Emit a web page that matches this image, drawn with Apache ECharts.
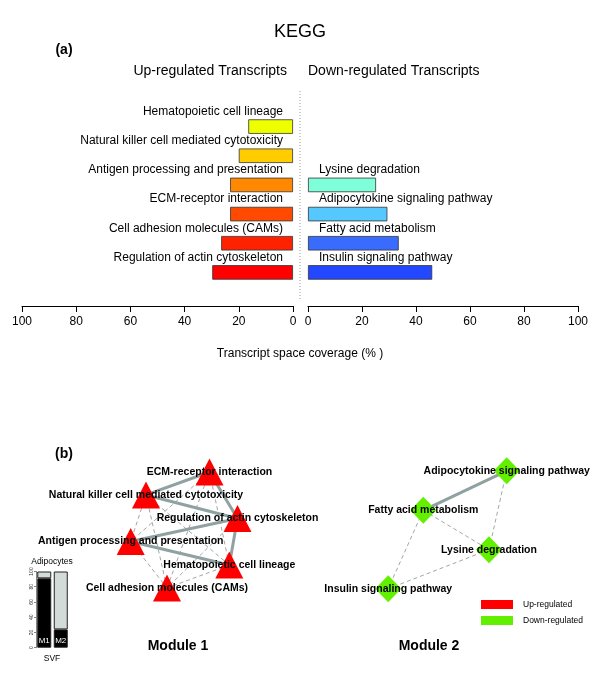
<!DOCTYPE html>
<html><head><meta charset="utf-8">
<script src="https://cdn.jsdelivr.net/npm/echarts@6/dist/echarts.min.js"></script>
<style>html,body{margin:0;padding:0;background:#fff}#c{width:600px;height:674px}</style>
</head><body><div id="c"></div>
<script>
// ---------- Panel (a): KEGG transcript space coverage ----------
const rowKeys = ['r1','r2','r3','r4','r5','r6'];
const upCategories = ['Hematopoietic cell lineage','Natural killer cell mediated cytotoxicity','Antigen processing and presentation','ECM-receptor interaction','Cell adhesion molecules (CAMs)','Regulation of actin cytoskeleton'];
const upValues = [16.5, 20, 23.2, 23.2, 26.5, 29.8];
const downCategories = ['', '', 'Lysine degradation','Adipocytokine signaling pathway','Fatty acid metabolism','Insulin signaling pathway'];
const downValues = [null, null, 25.2, 29.4, 33.6, 46];
const coverageMin = 0, coverageMax = 100, coverageStep = 20;

// ---------- Panel (b): modules network ----------
const module1Nodes = ['ECM-receptor interaction','Natural killer cell mediated cytotoxicity','Regulation of actin cytoskeleton','Antigen processing and presentation','Hematopoietic cell lineage','Cell adhesion molecules (CAMs)'];
const module1X = [54.75, 23, 68.75, 15.35, 64.65, 33.5];
const module1Y = [86.25, 71.9, 57.2, 42.8, 28.1, 13.75];
const module1Strong = [[0,1],[0,2],[1,2],[3,2],[3,4],[2,4]];
const module1Weak = [[0,3],[0,4],[0,5],[1,3],[1,4],[1,5],[2,5],[3,5],[4,5]];

const module2Nodes = ['Adipocytokine signaling pathway','Fatty acid metabolism','Lysine degradation','Insulin signaling pathway'];
const module2X = [68.9, 41.1, 63, 29.4];
const module2Y = [87, 62.3, 37.7, 13.25];
const module2Strong = [[0,1]];
const module2Weak = [[0,2],[1,2],[1,3],[2,3]];

// ---------- Inset: Adipocytes vs SVF ----------
const insetCategories = ['M1','M2'];
const insetModuleShare = [91, 24];
const insetRest = [9, 76];

// ---------- styles ----------
const FONT = '"Liberation Sans", Arial, Helvetica, sans-serif';
const upColors = ['#EEFF00','#FFCC00','#FF8800','#FF4A00','#FF2200','#FF0000'];
const downColors = ['#fff','#fff','#7FFFD9','#55C8FF','#3A6BFF','#2448FF'];
const strongLine = {width:3, color:'#8FA1A0', type:'solid', opacity:1, curveness:0};
const weakLine = {width:1, color:'#A0A8A8', type:[4,3], opacity:1, curveness:0};

function links(strong, weak){
  return weak.map(p=>({source:p[0], target:p[1], lineStyle:weakLine}))
    .concat(strong.map(p=>({source:p[0], target:p[1], lineStyle:strongLine})));
}

const axisCommon = {
  type:'value', min:coverageMin, max:coverageMax, interval:coverageStep,
  splitLine:{show:false}, offset:19,
  axisLine:{show:true, lineStyle:{color:'#000', width:1}},
  axisTick:{show:true, length:6, lineStyle:{color:'#000'}},
  axisLabel:{fontSize:12, color:'#000', margin:10, fontFamily:FONT}
};
const hiddenVal = (mn,mx)=>({type:'value', min:mn, max:mx, show:false, splitLine:{show:false}});

const chart = echarts.init(document.getElementById('c'), null, {renderer:'canvas'});
chart.setOption({
  animation:false,
  backgroundColor:'#fff',
  textStyle:{fontFamily:FONT},
  grid:[
    {left:22, top:112, width:271, height:175},
    {left:308, top:112, width:270, height:175},
    {left:100, top:450, width:200, height:160},
    {left:300, top:450, width:300, height:160},
    {left:36, top:571.5, width:33, height:76.2}
  ],
  xAxis:[
    Object.assign({gridIndex:0, inverse:true}, axisCommon),
    Object.assign({gridIndex:1}, axisCommon),
    Object.assign({gridIndex:2}, hiddenVal(0,100)),
    Object.assign({gridIndex:3}, hiddenVal(0,100)),
    {gridIndex:4, type:'category', data:insetCategories, show:false}
  ],
  yAxis:[
    {gridIndex:0, type:'category', data:rowKeys, inverse:true, show:false},
    {gridIndex:1, type:'category', data:rowKeys, inverse:true, show:false},
    Object.assign({gridIndex:2}, hiddenVal(0,100)),
    Object.assign({gridIndex:3}, hiddenVal(0,100)),
    {gridIndex:4, type:'value', min:0, max:100, interval:20, splitLine:{show:false},
     axisLine:{show:true, lineStyle:{color:'#333', width:0.6}},
     axisTick:{show:true, length:2, lineStyle:{color:'#333', width:0.6}},
     axisLabel:{fontSize:5, rotate:90, margin:2, color:'#333'}}
  ],
  legend:{
    orient:'vertical', left:481, top:600, padding:0, itemGap:7,
    itemWidth:32, itemHeight:9, selectedMode:false,
    textStyle:{fontSize:8.5, color:'#000', fontFamily:FONT, padding:[0,0,0,5]},
    data:[
      {name:'Up-regulated', icon:'rect', itemStyle:{color:'#FF0000'}},
      {name:'Down-regulated', icon:'rect', itemStyle:{color:'#62F000'}}
    ]
  },
  graphic:[
    {type:'text', x:300, y:32, style:{text:'KEGG', font:'18px '+FONT, fill:'#000', textAlign:'center', textVerticalAlign:'middle', verticalAlign:'middle'}},
    {type:'text', x:64, y:50, style:{text:'(a)', font:'bold 14px '+FONT, fill:'#000', textAlign:'center', textVerticalAlign:'middle', verticalAlign:'middle'}},
    {type:'text', x:287, y:71, style:{text:'Up-regulated Transcripts', font:'14px '+FONT, fill:'#000', textAlign:'right', textVerticalAlign:'middle', verticalAlign:'middle'}},
    {type:'text', x:308, y:71, style:{text:'Down-regulated Transcripts', font:'14px '+FONT, fill:'#000', textAlign:'left', textVerticalAlign:'middle', verticalAlign:'middle'}},
    {type:'line', shape:{x1:300, y1:91, x2:300, y2:300}, style:{stroke:'#999', lineWidth:1, lineDash:[1,2]}},
    {type:'text', x:300, y:354, style:{text:'Transcript space coverage (% )', font:'12px '+FONT, fill:'#000', textAlign:'center', textVerticalAlign:'middle', verticalAlign:'middle'}},
    {type:'text', x:64, y:454, style:{text:'(b)', font:'bold 14px '+FONT, fill:'#000', textAlign:'center', textVerticalAlign:'middle', verticalAlign:'middle'}},
    {type:'text', x:178, y:646, style:{text:'Module 1', font:'bold 14px '+FONT, fill:'#000', textAlign:'center', textVerticalAlign:'middle', verticalAlign:'middle'}},
    {type:'text', x:429, y:646, style:{text:'Module 2', font:'bold 14px '+FONT, fill:'#000', textAlign:'center', textVerticalAlign:'middle', verticalAlign:'middle'}},
    {type:'text', x:52, y:562, style:{text:'Adipocytes', font:'8.5px '+FONT, fill:'#000', textAlign:'center', textVerticalAlign:'middle', verticalAlign:'middle'}},
    {type:'text', x:52, y:659, style:{text:'SVF', font:'8.5px '+FONT, fill:'#000', textAlign:'center', textVerticalAlign:'middle', verticalAlign:'middle'}}
  ],
  series:[
    {
      type:'bar', name:'upBars', xAxisIndex:0, yAxisIndex:0, barWidth:14.5, silent:true,
      data: upValues.map((v,i)=>({value:v, itemStyle:{color:upColors[i]}})),
      itemStyle:{borderColor:'#333', borderWidth:0.8},
      label:{show:true, position:'insideRight', distance:5, offset:[-5,-15], color:'#000', fontSize:12, fontFamily:FONT,
        formatter:p=>upCategories[p.dataIndex]}
    },
    {
      type:'bar', name:'downBars', xAxisIndex:1, yAxisIndex:1, barWidth:14.5, silent:true,
      data: downValues.map((v,i)=>({value:v, itemStyle:{color:downColors[i]}})),
      itemStyle:{borderColor:'#333', borderWidth:0.8},
      label:{show:true, position:'insideLeft', distance:5, offset:[6,-15], color:'#000', fontSize:12, fontFamily:FONT,
        formatter:p=>downCategories[p.dataIndex]}
    },
    {
      type:'graph', name:'Up-regulated', coordinateSystem:'cartesian2d', xAxisIndex:2, yAxisIndex:2,
      layout:'none', symbol:'triangle', symbolSize:[28,27], silent:true,
      itemStyle:{color:'#FF0000'},
      label:{show:true, position:'inside', color:'#000', fontWeight:'bold', fontSize:10.5, fontFamily:FONT, formatter:'{b}'},
      emphasis:{disabled:true},
      data: module1Nodes.map((n,i)=>({name:n, value:[module1X[i], module1Y[i]]})),
      links: links(module1Strong, module1Weak)
    },
    {
      type:'graph', name:'Down-regulated', coordinateSystem:'cartesian2d', xAxisIndex:3, yAxisIndex:3,
      layout:'none', symbol:'diamond', symbolSize:[26,27], silent:true,
      itemStyle:{color:'#62F000'},
      label:{show:true, position:'inside', color:'#000', fontWeight:'bold', fontSize:10.5, fontFamily:FONT, formatter:'{b}'},
      emphasis:{disabled:true},
      data: module2Nodes.map((n,i)=>({name:n, value:[module2X[i], module2Y[i]]})),
      links: links(module2Strong, module2Weak)
    },
    {
      type:'bar', name:'insetModule', xAxisIndex:4, yAxisIndex:4, stack:'inset', barWidth:14, silent:true,
      data: insetModuleShare,
      itemStyle:{color:'#000', borderColor:'#222', borderWidth:1},
      label:{show:true, position:'insideBottom', distance:3, color:'#fff', fontSize:8, fontFamily:FONT, formatter:'{b}'}
    },
    {
      type:'bar', name:'insetRest', xAxisIndex:4, yAxisIndex:4, stack:'inset', barWidth:14, silent:true,
      data: insetRest,
      itemStyle:{color:'#D3DBD9', borderColor:'#222', borderWidth:1}
    }
  ]
});
</script>
</body></html>
